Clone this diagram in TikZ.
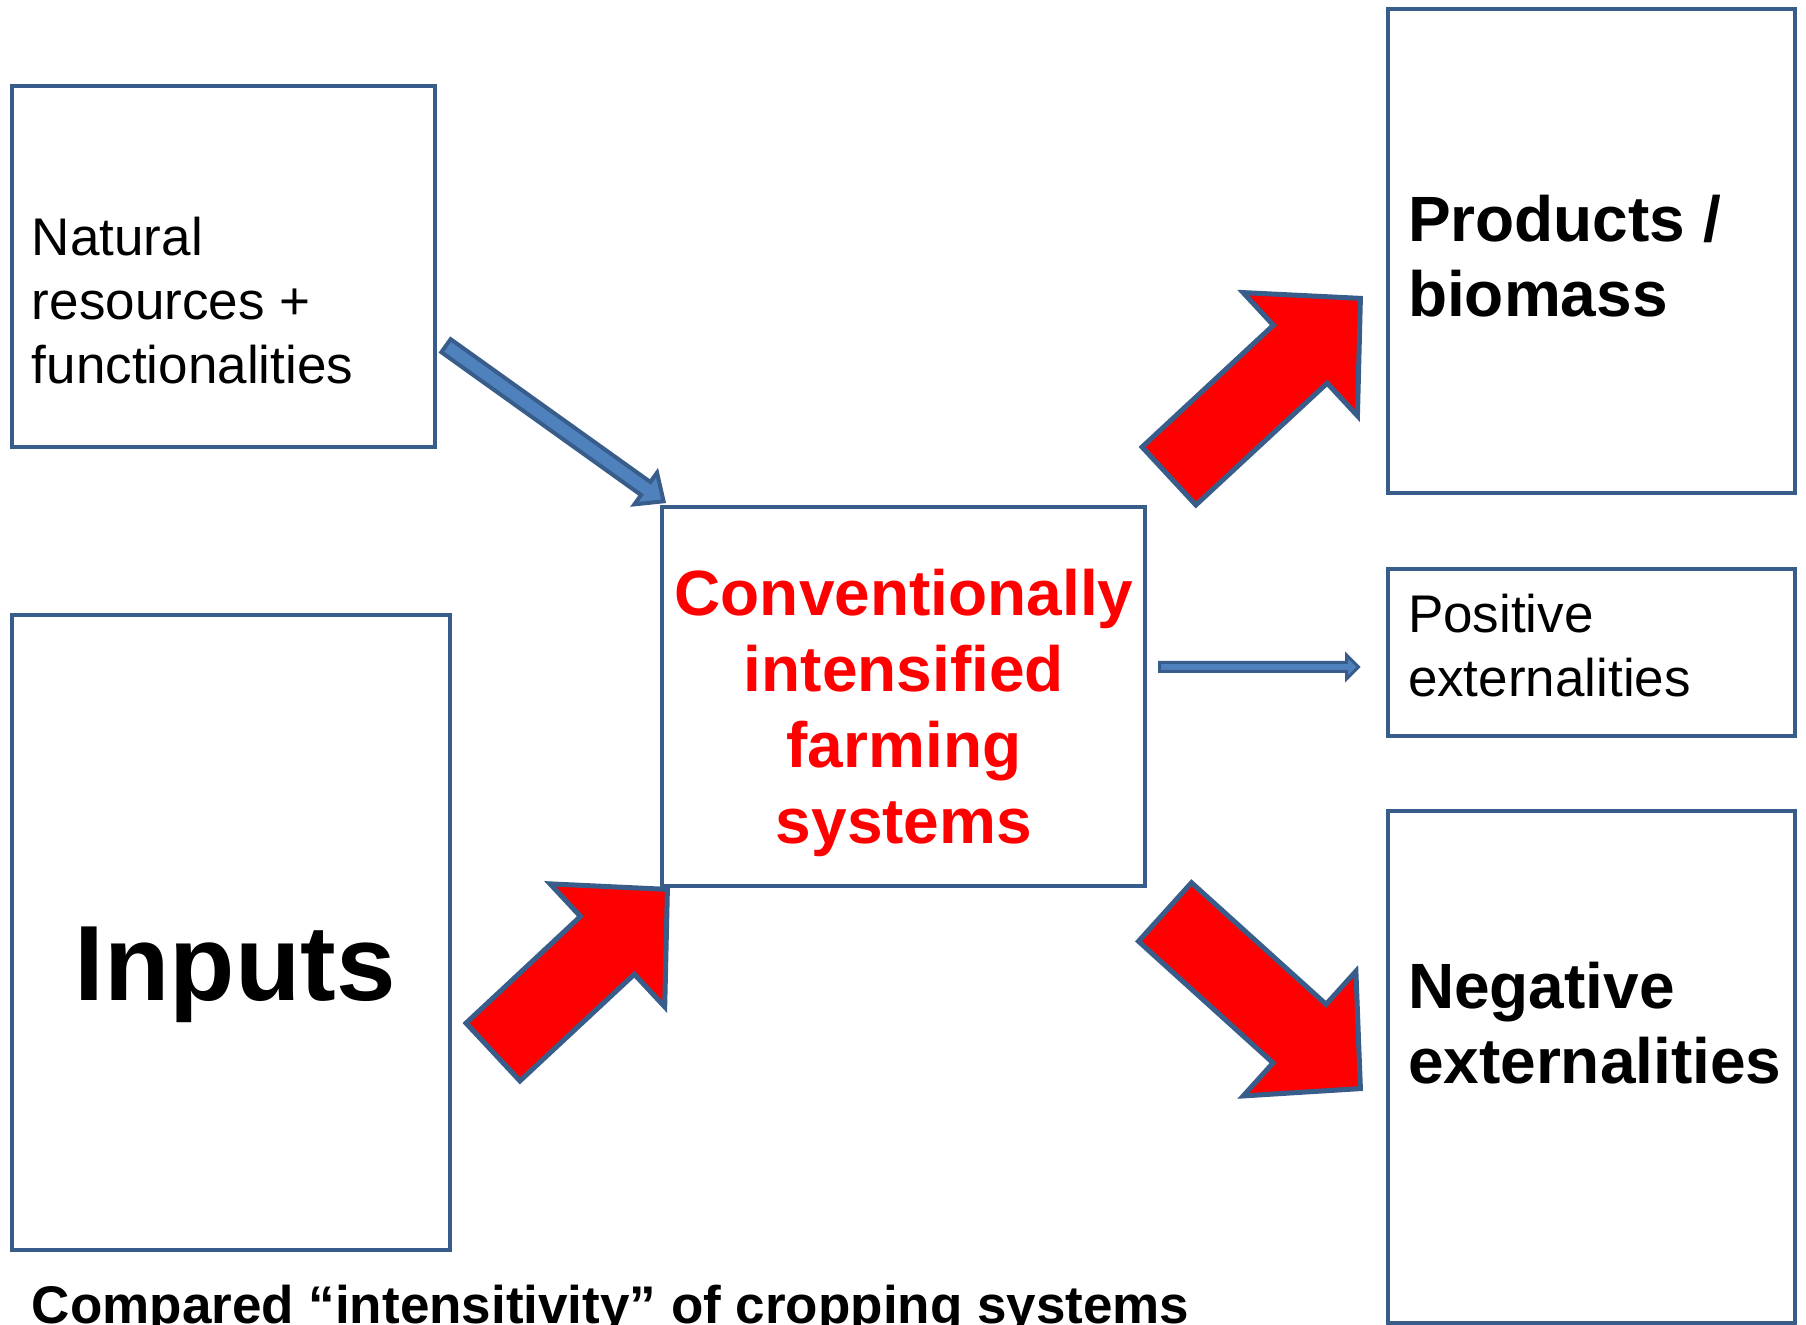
\documentclass[tikz,border=0pt]{standalone}
\usepackage{fontspec}
\setmainfont{Liberation Sans}
\usetikzlibrary{calc}
\definecolor{edgeblue}{HTML}{385D8A}
\definecolor{fillblue}{HTML}{4F81BD}
\definecolor{arrred}{HTML}{FF0000}
\newcommand\myblockarrow[6]{%
  \coordinate (tmpb) at ($(#2)!#5!(#1)$);
  \draw[#6] ($(#1)!#3!90:(#2)$) -- ($(tmpb)!#3!90:(#2)$) -- ($(tmpb)!#4!90:(#2)$) -- (#2)
    -- ($(tmpb)!#4!-90:(#2)$) -- ($(tmpb)!#3!-90:(#2)$) -- ($(#1)!#3!-90:(#2)$) -- cycle;}
\tikzset{
  box/.style={draw=edgeblue, line width=2.1pt, rectangle, inner sep=0pt, fill=white},
  txt/.style={inner sep=0pt, outer sep=0pt},
  regtxt/.style={txt, font=\fontsize{26.5}{32}\selectfont, align=left, anchor=base west},
  boldtxt/.style={txt, font=\fontsize{32}{37.5}\selectfont\bfseries, align=left, anchor=base west},
  redarrow/.style={fill=arrred, draw=edgeblue, line width=2.5pt, line join=miter},
  bluearrow/.style={fill=fillblue, draw=edgeblue, line width=2pt, line join=miter},
  thinarrow/.style={fill=fillblue, draw=edgeblue, line width=1.5pt, line join=miter}
}
\begin{document}
\begin{tikzpicture}[x=0.5pt, y=-0.5pt]
\useasboundingbox (0,0) rectangle (1806,1325);
% boxes
\node[box, minimum width=211.5pt, minimum height=180.5pt] (nat) at (223.5,266.5) {};
\node[box, minimum width=219pt, minimum height=317.5pt] (inp) at (231,932.5) {};
\node[box, minimum width=241.5pt, minimum height=189.5pt] (cen) at (903.5,696.5) {};
\node[box, minimum width=203.5pt, minimum height=242pt] (prod) at (1591.5,251) {};
\node[box, minimum width=203.5pt, minimum height=83.5pt] (pos) at (1591.5,652.5) {};
\node[box, minimum width=203.5pt, minimum height=256pt] (neg) at (1591.5,1067) {};
% texts (base anchor = baseline of the last line)
\node[regtxt] (nattxt) at (32,384) {Natural\\resources +\\functionalities};
\node[boldtxt] (prodtxt) at (1408,317) {Products /\\biomass};
\node[regtxt] (postxt) at (1408,697) {Positive\\externalities};
\node[boldtxt] (negtxt) at (1408,1084) {Negative\\externalities};
\node[txt, font=\fontsize{53.5}{60}\selectfont\bfseries, anchor=base] (inptxt) at (235,1001) {Inputs};
\node[txt, font=\fontsize{32}{38}\selectfont\bfseries, text=arrred, align=center, anchor=base] (centxt) at (904,844) {Conventionally\\intensified\\farming\\systems};
\node[txt, font=\fontsize{26.5}{32}\selectfont\bfseries, anchor=base west] (caption) at (32,1323) {Compared “intensitivity” of cropping systems};
% arrow end points
\coordinate (natout) at (446,345.7);
\coordinate (cenin1) at (663.6,501.3);
\coordinate (inpout) at (493,1052);
\coordinate (cenin2) at (667.4,889.4);
\coordinate (cenout1) at (1169,476);
\coordinate (prodin) at (1360.4,298.4);
\coordinate (cenout2) at (1159.5,667);
\coordinate (posin) at (1358.5,667);
\coordinate (cenout3) at (1165,912);
\coordinate (negin) at (1360.4,1088.6);
% arrows
\myblockarrow{natout}{cenin1}{4pt}{9.75pt}{11pt}{bluearrow}
\myblockarrow{inpout}{cenin2}{19.75pt}{42pt}{41pt}{redarrow}
\myblockarrow{cenout1}{prodin}{19.75pt}{42pt}{41pt}{redarrow}
\myblockarrow{cenout2}{posin}{2.25pt}{6pt}{6pt}{thinarrow}
\myblockarrow{cenout3}{negin}{19.75pt}{42pt}{41pt}{redarrow}
\end{tikzpicture}
\end{document}
